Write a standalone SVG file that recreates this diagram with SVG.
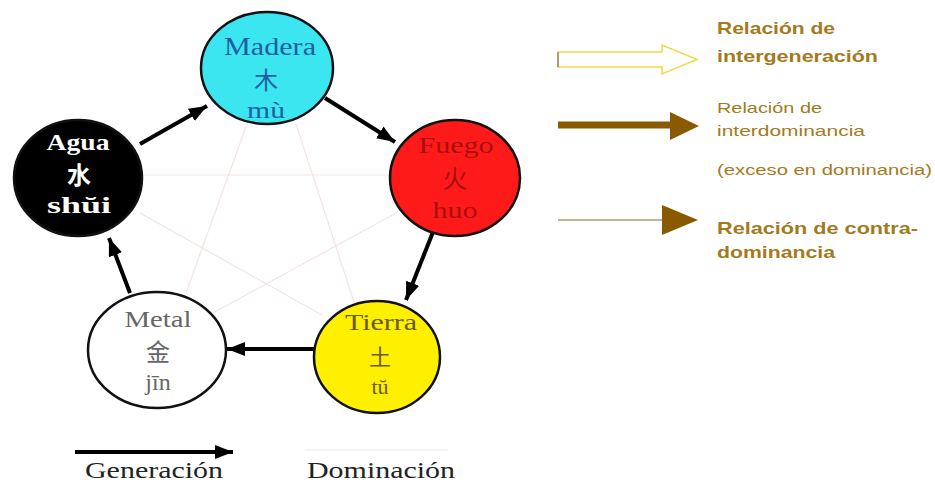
<svg xmlns="http://www.w3.org/2000/svg" width="935" height="484" viewBox="0 0 935 484">
<style>
.node{stroke:#111;stroke-width:2.5}
.lbl{font-family:"Liberation Serif","Noto Serif",serif;text-anchor:middle}
.cjk{font-family:"Noto Sans CJK SC","Noto Sans CJK JP",sans-serif;text-anchor:middle}
.gen{stroke:#000;stroke-width:4;fill:none;marker-end:url(#ah)}
.dom{stroke:#f5e4e4;stroke-width:1.2;fill:none}
.leg{font-family:"Liberation Sans",Arial,sans-serif;fill:#a47a1c}
</style>
<defs>
<marker id="ah" markerUnits="userSpaceOnUse" markerWidth="20" markerHeight="16" refX="18" refY="7" orient="auto">
<path d="M0,0 L18,7 L0,14 Z" fill="#000"/>
</marker>
</defs>
<rect width="935" height="484" fill="#fff"/>
<g id="connectors">
<line class="dom" x1="142" y1="175" x2="390" y2="175"/>
<line class="dom" x1="247" y1="124" x2="186" y2="293"/>
<line class="dom" x1="296" y1="124" x2="354" y2="302"/>
<line class="dom" x1="140" y1="213" x2="322" y2="315"/>
<line class="dom" x1="398" y1="212" x2="213" y2="313"/>
<line class="gen" x1="140" y1="144" x2="207" y2="106"/>
<line class="gen" x1="325" y1="98" x2="395" y2="142"/>
<line class="gen" x1="433" y1="232" x2="406" y2="300"/>
<line class="gen" x1="315" y1="349" x2="227" y2="349"/>
<line class="gen" x1="130" y1="293" x2="109" y2="238"/>
</g>
<g id="madera">
<ellipse class="node" cx="267" cy="68" rx="66" ry="56" fill="#3ce6f0"/>
<text class="lbl" x="270" y="55" font-size="25" fill="#1f5fa0" textLength="92" lengthAdjust="spacingAndGlyphs">Madera</text>
<text class="cjk" x="266" y="89" font-size="24" fill="#1f5fa0">木</text>
<text class="lbl" x="266" y="118" font-size="24" fill="#1f5fa0" textLength="38" lengthAdjust="spacingAndGlyphs">mù</text>
</g>
<g id="fuego">
<ellipse class="node" cx="455" cy="178" rx="65" ry="58" fill="#ff1a1a"/>
<text class="lbl" x="456" y="153" font-size="24" fill="#a81010" textLength="75" lengthAdjust="spacingAndGlyphs">Fuego</text>
<text class="cjk" x="455" y="188" font-size="25" fill="#a81010">火</text>
<text class="lbl" x="455" y="218" font-size="24" fill="#a81010" textLength="45" lengthAdjust="spacingAndGlyphs">huo</text>
</g>
<g id="tierra">
<ellipse class="node" cx="377" cy="357" rx="63" ry="56" fill="#fff000"/>
<text class="lbl" x="381" y="330" font-size="24" fill="#6a5a18" textLength="72" lengthAdjust="spacingAndGlyphs">Tierra</text>
<text class="cjk" x="380" y="365" font-size="22" fill="#6a5a18">土</text>
<text class="lbl" x="380" y="394" font-size="22" fill="#6a5a18">tŭ</text>
</g>
<g id="metal">
<ellipse class="node" cx="157" cy="350" rx="69" ry="58" fill="#fff"/>
<text class="lbl" x="158" y="327" font-size="24" fill="#666" textLength="67" lengthAdjust="spacingAndGlyphs">Metal</text>
<text class="cjk" x="158" y="361" font-size="24" fill="#666">金</text>
<text class="lbl" x="158" y="390" font-size="24" fill="#666">jīn</text>
</g>
<g id="agua">
<ellipse class="node" cx="78" cy="178" rx="64" ry="58" fill="#000"/>
<text class="lbl" x="78" y="150" font-size="24" font-weight="bold" fill="#fff" textLength="63" lengthAdjust="spacingAndGlyphs">Agua</text>
<text class="cjk" x="79" y="184" font-size="24" font-weight="bold" fill="#ffffff">水</text>
<text class="lbl" x="79" y="213" font-size="24" font-weight="bold" fill="#fff" textLength="64" lengthAdjust="spacingAndGlyphs">shŭi</text>
</g>
<g id="legend-bottom">
<line x1="75" y1="452" x2="233" y2="452" stroke="#000" stroke-width="4" marker-end="url(#ah)"/>
<text class="lbl" x="154" y="478" font-size="23" fill="#222" textLength="138" lengthAdjust="spacingAndGlyphs">Generación</text>
<line x1="305" y1="450" x2="448" y2="450" stroke="#ececec" stroke-width="1.2"/>
<text class="lbl" x="381" y="478" font-size="23" fill="#222" textLength="148" lengthAdjust="spacingAndGlyphs">Dominación</text>
</g>
<g id="legend-right">
<path d="M558,52 L662,52 L662,45 L697,59.5 L662,74 L662,67 L558,67 Z" fill="#fff" stroke="#f0d848" stroke-width="1.5"/>
<line x1="558" y1="52" x2="558" y2="67" stroke="#9a8a60" stroke-width="1.5"/>
<text class="leg" x="717" y="34" font-size="17" font-weight="bold" textLength="118" lengthAdjust="spacingAndGlyphs">Relación de</text>
<text class="leg" x="717" y="62" font-size="17" font-weight="bold" textLength="161" lengthAdjust="spacingAndGlyphs">intergeneración</text>
<line x1="558" y1="125" x2="672" y2="125" stroke="#8a5a00" stroke-width="7"/>
<path d="M670,112 L699,126 L670,140 Z" fill="#8a5a00"/>
<text class="leg" x="717" y="113" font-size="15" textLength="105" lengthAdjust="spacingAndGlyphs">Relación de</text>
<text class="leg" x="717" y="136" font-size="15" textLength="148" lengthAdjust="spacingAndGlyphs">interdominancia</text>
<text class="leg" x="717" y="175" font-size="14" textLength="215" lengthAdjust="spacingAndGlyphs">(exceso en dominancia)</text>
<line x1="558" y1="220" x2="665" y2="220" stroke="#8a6a20" stroke-width="1"/>
<path d="M662,205 L698,220 L662,235 Z" fill="#8a5a00"/>
<text class="leg" x="717" y="234" font-size="17" font-weight="bold" textLength="201" lengthAdjust="spacingAndGlyphs">Relación de contra-</text>
<text class="leg" x="717" y="258" font-size="17" font-weight="bold" textLength="118" lengthAdjust="spacingAndGlyphs">dominancia</text>
</g>
</svg>
